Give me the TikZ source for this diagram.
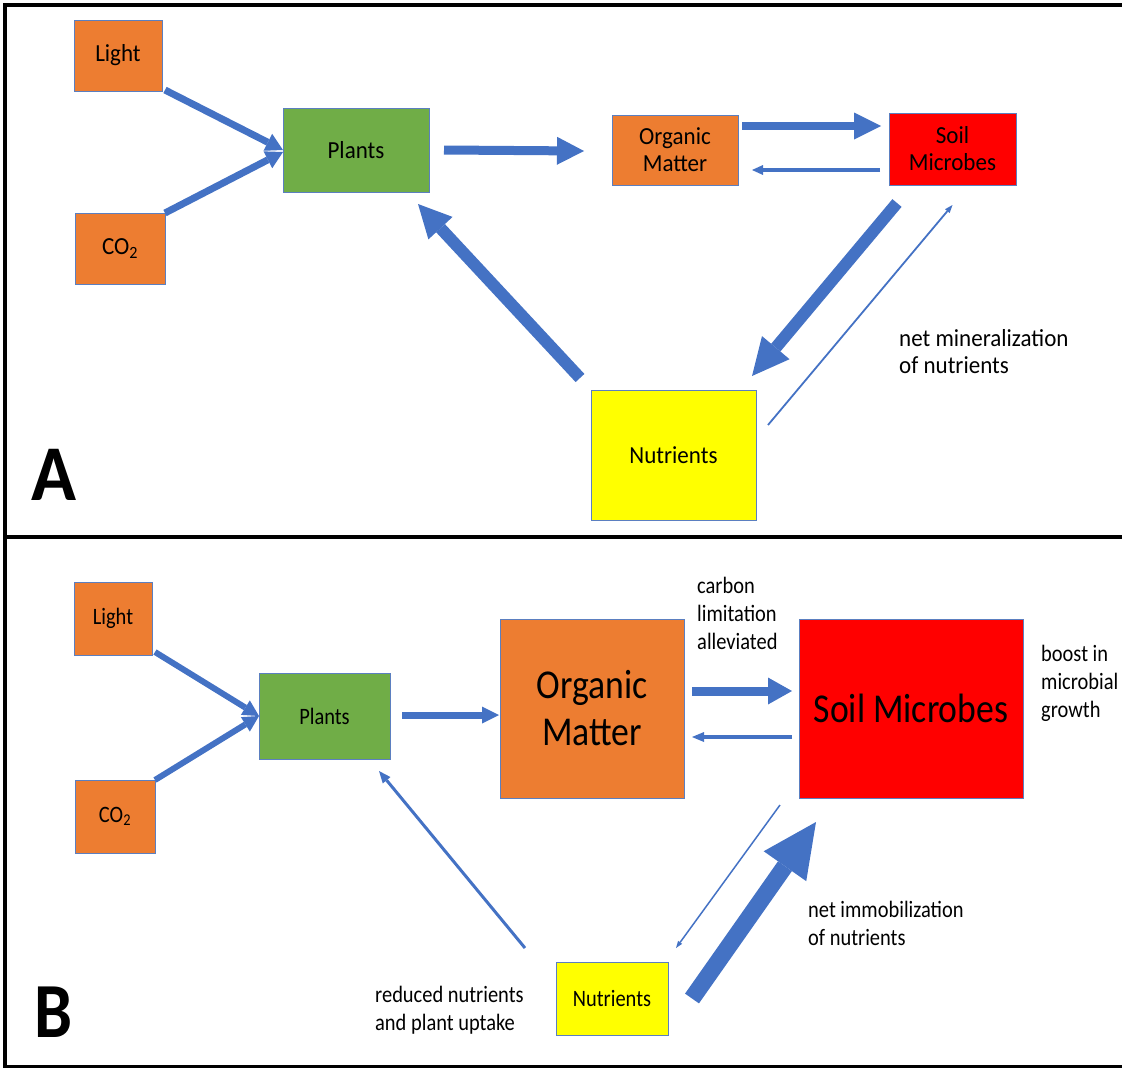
\documentclass[tikz,border=0pt]{standalone}
\usepackage{fontspec}
\setmainfont{Carlito}
\newfontfamily\fa[FakeStretch=0.94]{Carlito}
\newfontfamily\fb[FakeStretch=0.87]{Carlito}
\usetikzlibrary{arrows.meta,calc}
\definecolor{orangeC}{HTML}{ED7D31}
\definecolor{greenC}{HTML}{70AD47}
\definecolor{redC}{HTML}{FF0000}
\definecolor{yellowC}{HTML}{FFFF00}
\definecolor{blueC}{HTML}{4472C4}
\definecolor{boxline}{HTML}{5B7FC0}
\begin{document}
\begin{tikzpicture}[x=1pt,y=-1pt,
  box/.style={draw=boxline,line width=1pt,inner sep=0pt,outer sep=0pt,align=center},
  tA/.style={font=\fa\fontsize{24.5}{27}\selectfont},
  tB/.style={font=\fb\fontsize{23.5}{28}\selectfont},
  tBig/.style={font=\fb\fontsize{41}{47}\selectfont},
  arw/.style n args={3}{draw=blueC,line width=#1pt,-{Triangle[length=#2pt,width=#3pt,line width=0pt]}},
  note/.style={inner sep=0pt,anchor=west,align=left},
  frame/.style={draw=black,line width=#1pt}
]
\useasboundingbox (0,0) rectangle (1122,1068);
% frame
\draw[frame=3.3] (1122,5) -- (5,5) -- (5,1068);
\draw[frame=4] (5,537) -- (1122,537);
\draw[frame=3] (5,1066.5) -- (1122,1066.5);

% ---------------- Panel A ----------------
\node[box,fill=orangeC,minimum width=88pt,minimum height=71pt,tA] (lightA) at (118,55.5) {Light};
\node[box,fill=orangeC,minimum width=90pt,minimum height=71pt,tA] (co2A) at (120,248.5) {CO\textsubscript{2}};
\node[box,fill=greenC,minimum width=146pt,minimum height=84pt,tA] (plantsA) at (356,150) {Plants};
\node[box,fill=orangeC,minimum width=126pt,minimum height=70pt,tA] (omA) at (675,150) {Organic\\Matter};
\node[box,fill=redC,minimum width=127pt,minimum height=72pt,tA] (smA) at (952.5,149) {Soil\\Microbes};
\node[box,fill=yellowC,minimum width=165pt,minimum height=130pt,tA] (nutA) at (673.5,455) {Nutrients};
\node[note,tA] (minA) at (899,351.5) {net mineralization\\of nutrients};
\node[inner sep=0pt,anchor=base west,font=\fa\bfseries\fontsize{79}{80}\selectfont] (labA) at (31,500) {A};

\draw[arw={7}{17}{19}] ($(lightA.south east)+(3,-1)$) -- (plantsA.west);
\draw[arw={7}{17}{19}] ($(co2A.north east)+(0,0)$) -- ($(plantsA.west)+(0,2)$);
\draw[arw={9}{27}{28}] ($(plantsA.east)+(15,0)$) -- ($(omA.west)+(-28,1)$);
\draw[arw={8}{27}{27}] ($(omA.east)+(4,-24)$) -- ($(smA.west)+(-8,-23)$);
\draw[arw={3.5}{11}{10}] ($(smA.west)+(-9,21)$) -- ($(omA.east)+(14,20)$);
\draw[arw={12}{37}{36}] ($(smA.south west)+(8,18)$) -- ($(nutA.north east)+(-4,-14)$);
\draw[arw={12}{33}{33}] ($(nutA.north west)+(-11,-12)$) -- ($(plantsA.south east)+(-11,12)$);
\draw[arw={1.8}{8}{6}] ($(nutA.north east)+(12,35)$) -- ($(smA.south)+(0,20)$);

% ---------------- Panel B ----------------
\node[box,fill=orangeC,minimum width=78pt,minimum height=73pt,tB] (lightB) at (113,618.5) {Light};
\node[box,fill=orangeC,minimum width=80pt,minimum height=73pt,tB] (co2B) at (115,816.5) {CO\textsubscript{2}};
\node[box,fill=greenC,minimum width=131pt,minimum height=86pt,tB] (plantsB) at (324.5,716) {Plants};
\node[box,fill=orangeC,minimum width=184pt,minimum height=179pt,tBig] (omB) at (592,708.5) {Organic\\Matter};
\node[box,fill=redC,minimum width=224pt,minimum height=179pt,tBig] (smB) at (911,708.5) {Soil Microbes};
\node[box,fill=yellowC,minimum width=112pt,minimum height=73pt,tB] (nutB) at (612,998.5) {Nutrients};
\node[note,tB] (carbB) at (697,613.5) {carbon\\limitation\\alleviated};
\node[note,tB] (boostB) at (1041,683) {boost in\\microbial\\growth};
\node[note,tB] (immB) at (808,923) {net immobilization\\of nutrients};
\node[note,tB] (redB) at (375,1010) {reduced nutrients\\and plant uptake};
\node[inner sep=0pt,anchor=base west,font=\fb\bfseries\fontsize{78}{80}\selectfont] (labB) at (34,1037) {B};

\draw[arw={6}{16}{17}] ($(lightB.south east)+(3,-3)$) -- (plantsB.west);
\draw[arw={6}{16}{17}] (co2B.north east) -- (plantsB.west);
\draw[arw={7}{17}{17}] ($(plantsB.east)+(12,-1)$) -- ($(omB.west)+(-1,6.5)$);
\draw[arw={9}{24}{27}] ($(omB.east)+(8,-17.5)$) -- ($(smB.west)+(-7,-17.5)$);
\draw[arw={4}{12}{10}] ($(smB.west)+(-7,28.5)$) -- ($(omB.east)+(8,28.5)$);
\draw[arw={3}{12}{10}] ($(nutB.north west)+(-31,-14)$) -- ($(plantsB.south east)+(-11,12)$);
\draw[arw={1.5}{7}{5}] ($(smB.south west)+(-19,7)$) -- ($(nutB.north east)+(8,-14)$);
\draw[arw={17}{54}{52}] ($(nutB.east)+(24,0)$) -- ($(smB.south west)+(17,24)$);
\end{tikzpicture}
\end{document}
